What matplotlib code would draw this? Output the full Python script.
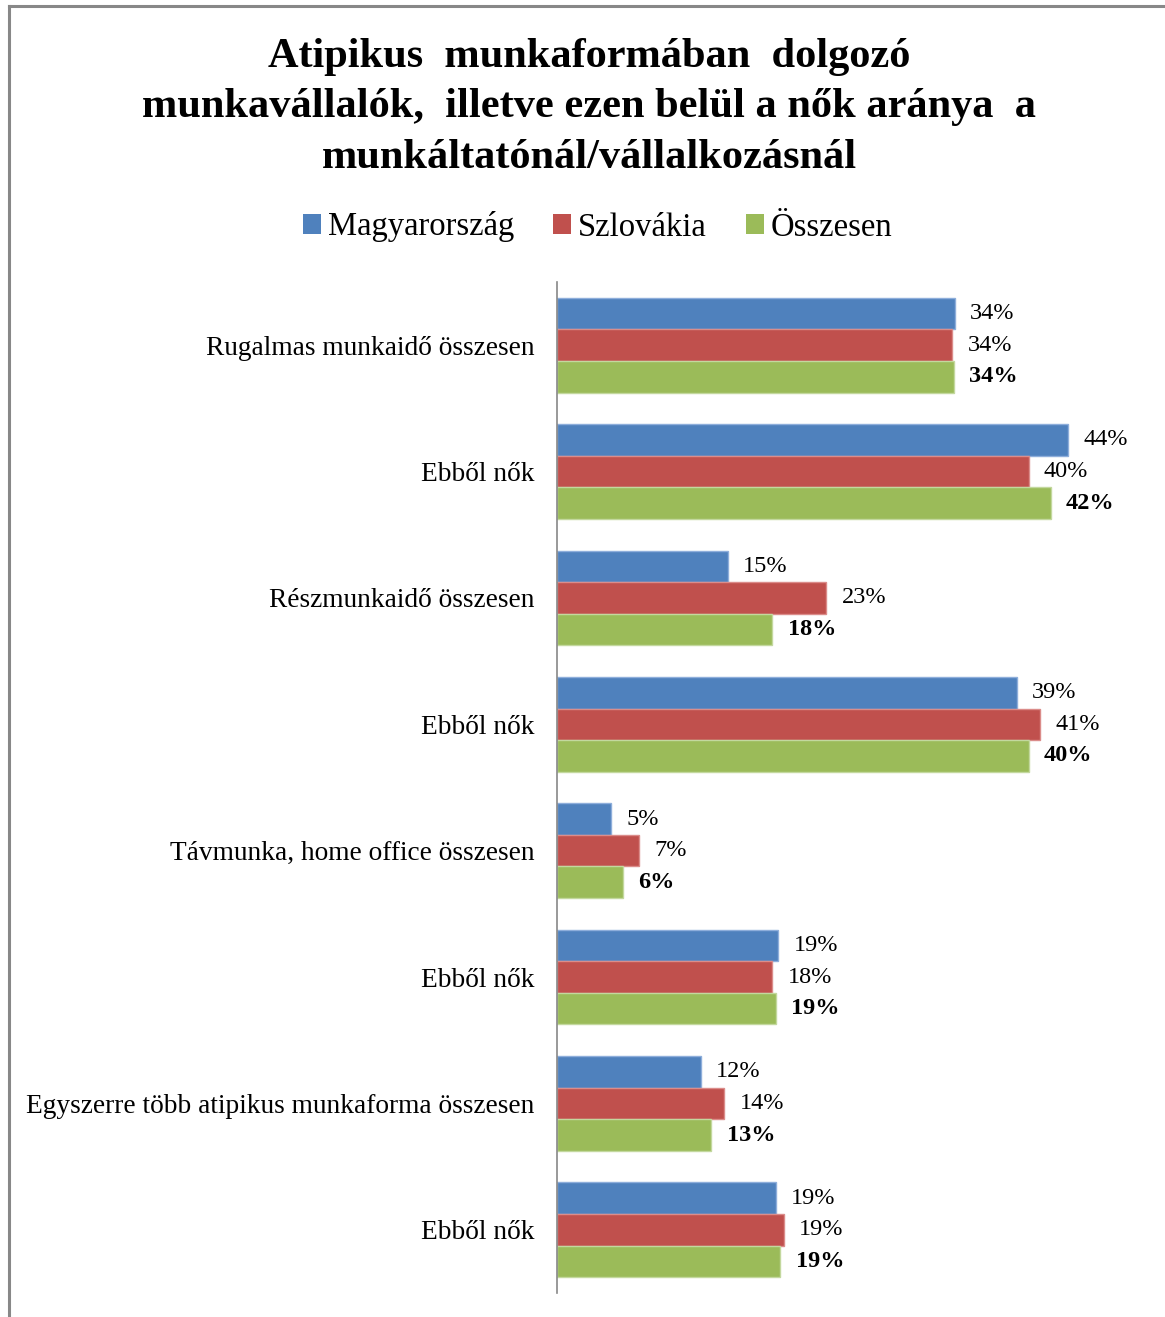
import matplotlib.pyplot as plt
from matplotlib.lines import Line2D
from matplotlib.patches import Patch
import numpy as np

plt.rcParams['font.family'] = ['Liberation Serif', 'DejaVu Serif']

categories = [
    "Rugalmas munkaidő összesen",
    "Ebből nők",
    "Részmunkaidő összesen",
    "Ebből nők",
    "Távmunka, home office összesen",
    "Ebből nők",
    "Egyszerre több atipikus munkaforma összesen",
    "Ebből nők",
]
series_names = ["Magyarország", "Szlovákia", "Összesen"]
magyarorszag = [34.0, 43.7, 14.6, 39.3, 4.6, 18.9, 12.3, 18.7]
szlovakia = [33.8, 40.3, 23.0, 41.3, 7.0, 18.4, 14.3, 19.4]
osszesen = [33.9, 42.2, 18.4, 40.3, 5.6, 18.7, 13.2, 19.1]

colors = ["#4F81BD", "#C0504D", "#9BBB59"]
edges = ["#8EAEDB", "#DB8C8A", "#C3D89E"]

fig = plt.figure(figsize=(11.65, 13.17), dpi=100)
ax = fig.add_axes([557 / 1165, 1 - 1293 / 1317, 585 / 1165, (1293 - 282) / 1317])

y = np.arange(len(categories))
h = 0.25
for i, (vals, name) in enumerate(zip([magyarorszag, szlovakia, osszesen], series_names)):
    pos = y + (i - 1) * h
    ax.barh(pos, vals, height=h, color=colors[i], edgecolor=edges[i],
            linewidth=1, label=name)
    for p, v in zip(pos, vals):
        ax.annotate(f"{v:.0f}%", (v, p), xytext=(11, 0), textcoords="offset points",
                    va="center", ha="left", fontsize=17.5,
                    fontweight="bold" if i == 2 else "normal")

ax.set_xlim(0, 50)
ax.set_ylim(len(categories) - 0.5, -0.5)
ax.set_yticks(y)
ax.set_yticklabels(categories, fontsize=19.7)
ax.tick_params(axis="y", length=0, pad=16)
ax.set_xticks([])
for s in ["top", "right", "bottom"]:
    ax.spines[s].set_visible(False)
ax.spines["left"].set_color("#888888")
ax.spines["left"].set_linewidth(1.2)

fig.text(0.506, 1 - 38 / 1317,
         "Atipikus  munkaformában  dolgozó\n"
         "munkavállalók,  illetve ezen belül a nők aránya  a\n"
         "munkáltatónál/vállalkozásnál",
         ha="center", va="top", fontsize=30.5, fontweight="bold", linespacing=1.43)

handles = [Patch(facecolor=c) for c in colors]
fig.legend(handles, series_names, loc="center", bbox_to_anchor=(0.513, 1 - 227 / 1317),
           ncol=3, frameon=False, fontsize=23.5, handlelength=0.55, handleheight=0.55,
           handletextpad=0.2, columnspacing=1.2)

# frame lines along the top and left edges
fig.add_artist(Line2D([9 / 1165, 9 / 1165], [0, 1 - 6 / 1317], color="#888888", linewidth=2.2))
fig.add_artist(Line2D([9 / 1165, 1], [1 - 6 / 1317, 1 - 6 / 1317], color="#888888", linewidth=2.2))

fig.savefig("out.png", dpi=100)
